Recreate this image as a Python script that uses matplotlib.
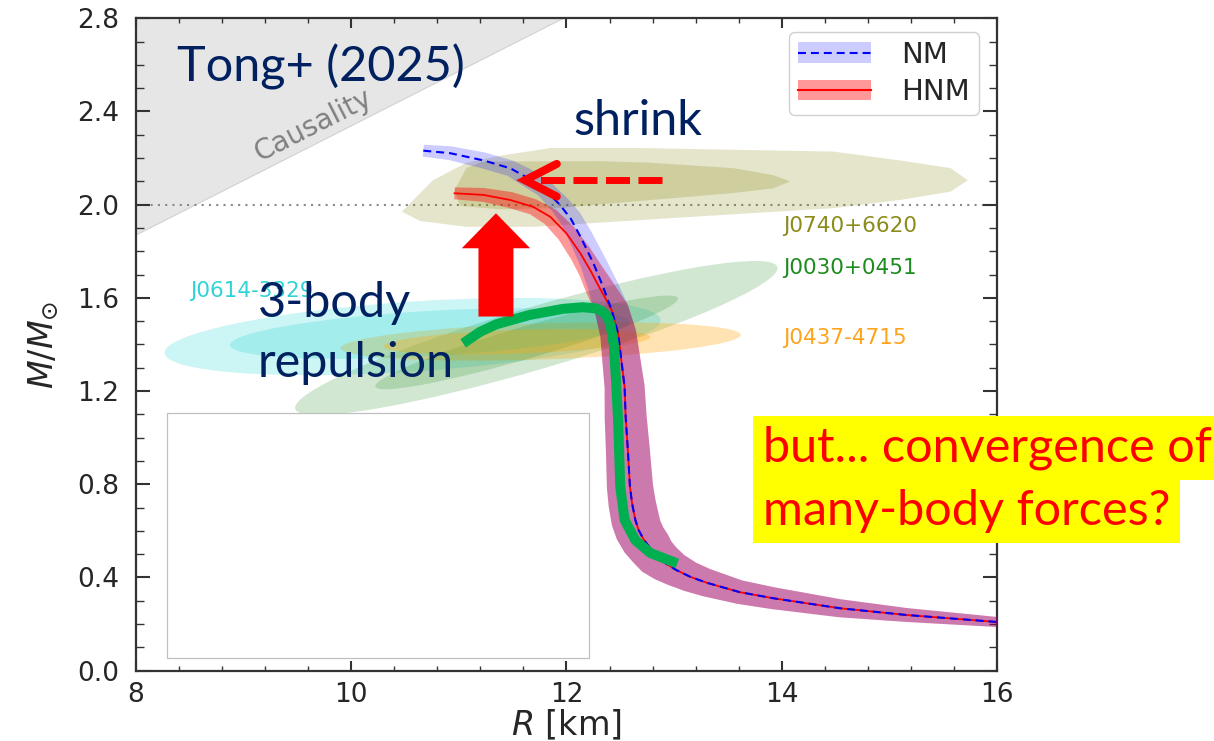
import numpy as np
import matplotlib
matplotlib.use("Agg")
import matplotlib.pyplot as plt
from matplotlib.patches import Ellipse, Rectangle, FancyArrow, Patch
from matplotlib.lines import Line2D
from matplotlib.transforms import Affine2D

plt.rcParams['font.family'] = ['DejaVu Sans']
plt.rcParams['mathtext.fontset'] = 'dejavusans'

# mass-radius curve, nucleon matter (NM)
nm_R = [10.67, 10.92, 11.23, 11.48, 11.62, 11.79, 11.94, 12.04, 12.13, 12.25,
        12.34, 12.42, 12.48, 12.51, 12.54, 12.55, 12.57, 12.59, 12.61, 12.64,
        12.67, 12.72, 12.78, 12.84, 12.92, 13.02, 13.15, 13.30, 13.61, 13.92,
        14.54, 15.16, 16.00]
nm_M = [2.232, 2.221, 2.190, 2.156, 2.120, 2.070, 1.999, 1.940, 1.863, 1.749,
        1.648, 1.548, 1.448, 1.333, 1.219, 1.090, 0.950, 0.790, 0.718, 0.647,
        0.604, 0.561, 0.525, 0.489, 0.461, 0.432, 0.403, 0.378, 0.337, 0.311,
        0.268, 0.239, 0.209]
# half width of the uncertainty band (points, across the curve)
nm_band = [4.3, 5.0, 5.8, 5.8, 6.5, 6.5, 7.2, 7.9, 8.6, 9.4,
           10.8, 12.2, 13.0, 13.7, 14.4, 15.1, 15.8, 16.6, 17.0, 17.3,
           17.0, 16.6, 16.0, 15.1, 13.8, 12.2, 11.0, 10.1, 8.6, 7.9,
           6.5, 5.0, 3.6]

# hyperonic matter (HNM)
hnm_R = [10.96, 11.23, 11.48, 11.69, 11.85, 12.00, 12.13, 12.22, 12.30, 12.36,
         12.42, 12.48, 12.51, 12.54, 12.55, 12.57, 12.59, 12.61, 12.64,
         12.67, 12.72, 12.78, 12.84, 12.92, 13.02, 13.15, 13.30, 13.61, 13.92,
         14.54, 15.16, 16.00]
hnm_M = [2.049, 2.042, 2.020, 1.991, 1.948, 1.877, 1.791, 1.720, 1.650, 1.600,
         1.548, 1.448, 1.333, 1.219, 1.090, 0.950, 0.790, 0.718, 0.647,
         0.604, 0.561, 0.525, 0.489, 0.461, 0.432, 0.403, 0.378, 0.337, 0.311,
         0.268, 0.239, 0.209]
hnm_band = [4.3, 5.0, 5.8, 5.8, 6.5, 7.2, 7.9, 8.6, 10.1, 10.8,
            12.2, 13.0, 13.7, 14.4, 15.1, 15.8, 16.6, 17.0, 17.3,
            17.0, 16.6, 16.0, 15.1, 13.8, 12.2, 11.0, 10.1, 8.6, 7.9,
            6.5, 5.0, 3.6]

# sketched 3-body repulsion curve
tbf_R = [11.04, 11.20, 11.35, 11.66, 11.97, 12.15, 12.27, 12.32, 12.36, 12.39,
         12.41, 12.44, 12.46, 12.48, 12.50, 12.54, 12.64, 12.78, 13.03]
tbf_M = [1.405, 1.455, 1.487, 1.527, 1.553, 1.560, 1.555, 1.545, 1.530, 1.510,
         1.480, 1.400, 1.250, 1.075, 0.790, 0.647, 0.560, 0.505, 0.460]

causal_R = [8.0, 11.97]
causal_M = [1.87, 2.80]

# J0740+6620 contours
j0740_out_R = [10.47, 10.76, 11.07, 11.38, 11.85, 12.71, 14.48, 15.10, 15.57, 15.73,
               15.57, 15.10, 14.48, 13.24, 12.31, 11.69, 11.07, 10.64]
j0740_out_M = [1.970, 2.105, 2.180, 2.210, 2.243, 2.243, 2.228, 2.190, 2.157, 2.105,
               2.056, 2.020, 1.985, 1.950, 1.923, 1.905, 1.905, 1.930]
j0740_in_R = [10.96, 11.07, 11.22, 12.31, 12.78, 13.55, 13.92, 14.08,
              13.92, 13.55, 12.78, 11.94, 11.38, 11.01]
j0740_in_M = [2.063, 2.157, 2.185, 2.187, 2.180, 2.157, 2.127, 2.100,
              2.070, 2.050, 2.020, 1.986, 1.980, 1.995]

# other pulsars: centre R, centre M, length (km), thickness (km), tilt (deg)
psr_names = ['J0614-3329', 'J0030+0451', 'J0437-4715']
psr_outer = [(10.57, 1.434, 4.62, 0.65, 3.8),
             (11.72, 1.428, 4.67, 0.58, 16.4),
             (11.76, 1.413, 3.72, 0.335, 1.9)]
psr_inner = [(10.73, 1.447, 3.72, 0.42, 3.3),
             (11.63, 1.409, 2.93, 0.30, 16.3),
             (11.54, 1.412, 2.48, 0.22, 2.0)]
psr_fill = ['#00ced1', '#228b22', '#ffa500']
psr_alpha = [0.2, 0.2, 0.3]

label_names = ['J0740+6620', 'J0030+0451', 'J0437-4715', 'J0614-3329']
label_R = [14.01, 14.01, 14.01, 8.50]
label_M = [1.91, 1.73, 1.43, 1.63]
label_colors = ['#8b8b1a', '#1e8b1e', '#ffa31a', '#2fd3d6']

fig = plt.figure(figsize=(12.14, 7.41), dpi=100)
ax = fig.add_axes([0.112, 0.0949, 0.7092, 0.8804])
ax.set_xlim(8, 16)
ax.set_ylim(0, 2.8)

# causality region
ax.fill_between(causal_R, causal_M, 2.8, color='#e6e6e6', lw=0, zorder=1)
ax.plot(causal_R, causal_M, color='#d4d4d4', lw=0.8, zorder=1)
ax.text(9.648, 2.339, 'Causality', color='#808080', fontsize=20, rotation=27,
        ha='center', va='center', rotation_mode='anchor', zorder=1)

ax.axhline(2.0, color='#8a8a8a', lw=1.5, dashes=(1, 2.5), zorder=1.5)

# J0740 contours
ax.fill(j0740_out_R, j0740_out_M, color='#808000', alpha=0.2, lw=0, zorder=2)
ax.fill(j0740_in_R, j0740_in_M, color='#808000', alpha=0.22, lw=0, zorder=2)

# ellipses drawn in a frame with equal pixel scale in R and M
bb = ax.get_window_extent()
k = (bb.height / 2.8) / (bb.width / 8.0)
iso = Affine2D().scale(1.0, 1.0 / k) + ax.transData
for shapes in (psr_outer, psr_inner):
    for (r, m, L, T, a), c, al in zip(shapes, psr_fill, psr_alpha):
        ax.add_patch(Ellipse((r, m * k), L, T, angle=a, transform=iso,
                             facecolor=c, alpha=al, lw=0, zorder=2))

for name, r, m, c in zip(label_names, label_R, label_M, label_colors):
    ax.text(r, m, name, color=c, fontsize=15.5, va='center', ha='left', zorder=3)


def band_polygon(R, M, hw_pt):
    pts = ax.transData.transform(np.column_stack([R, M]))
    d = np.gradient(pts, axis=0)
    t = d / np.linalg.norm(d, axis=1)[:, None]
    n = np.column_stack([-t[:, 1], t[:, 0]])
    hw = np.asarray(hw_pt)[:, None] * fig.dpi / 72.0
    poly = np.vstack([pts + n * hw, (pts - n * hw)[::-1]])
    return ax.transData.inverted().transform(poly)


hb = band_polygon(hnm_R, hnm_M, hnm_band)
ax.fill(hb[:, 0], hb[:, 1], color='red', alpha=0.4, lw=0, zorder=3)
nb = band_polygon(nm_R, nm_M, nm_band)
ax.fill(nb[:, 0], nb[:, 1], color='blue', alpha=0.2, lw=0, zorder=3)

ax.plot(hnm_R, hnm_M, color='red', lw=1.3, zorder=4)
ax.plot(nm_R, nm_M, color='blue', lw=1.5, dashes=(3.8, 2.4), zorder=4.1)

ax.plot(tbf_R, tbf_M, color='#00b050', lw=7.2, solid_capstyle='butt',
        solid_joinstyle='round', zorder=6)

# arrows
ax.add_patch(FancyArrow(11.345, 1.52, 0, 0.443, width=0.325, head_width=0.635,
                        head_length=0.15, length_includes_head=True,
                        color='red', lw=0, zorder=7))
ax.plot([12.89, 11.68], [2.105, 2.105], color='red', lw=5, dashes=(3.46, 1.22),
        solid_capstyle='butt', dash_capstyle='butt', zorder=7)
ax.plot([11.91, 11.615, 11.91], [2.175, 2.105, 2.035], color='red', lw=5.8,
        solid_capstyle='round', solid_joinstyle='miter', zorder=7)

# covered inset
ax.add_patch(Rectangle((8.29, 0.055), 3.92, 1.051, facecolor='white',
                       edgecolor='#c0c0c0', lw=0.9, zorder=8))

# legend
h_nm = (Patch(facecolor='blue', alpha=0.2, lw=0),
        Line2D([], [], color='blue', lw=1.5, dashes=(3.8, 2.4)))
h_hnm = (Patch(facecolor='red', alpha=0.4, lw=0),
         Line2D([], [], color='red', lw=1.5))
leg = ax.legend([h_nm, h_hnm], ['NM', 'HNM'], loc='upper right', fontsize=21,
                bbox_to_anchor=(979 / 1214, 1 - 32 / 741),
                bbox_transform=fig.transFigure, borderaxespad=0,
                handlelength=2.5, handletextpad=1.05, labelspacing=0.33,
                borderpad=0.3, fancybox=True, framealpha=1,
                edgecolor='#d0d0d0')
for t in leg.get_texts():
    t.set_color('#262626')
leg.set_zorder(9)

# axes styling
ax.set_xticks([8, 10, 12, 14, 16])
ax.set_xticks(np.arange(8, 16.01, 0.4), minor=True)
ax.set_yticks(np.arange(0, 2.81, 0.4))
ax.set_yticklabels(['%.1f' % v for v in np.arange(0, 2.81, 0.4)])
ax.set_yticks(np.arange(0, 2.81, 0.1), minor=True)
ax.tick_params(which='both', direction='in', top=True, right=True,
               colors='#333333', labelcolor='#262626', labelsize=19)
ax.tick_params(axis='x', which='major', length=7, width=1.5, pad=8)
ax.tick_params(axis='x', which='minor', length=3.6, width=1.0)
ax.tick_params(axis='y', which='major', length=10, width=1.5, pad=12)
ax.tick_params(axis='y', which='minor', length=6, width=1.0)
for s in ax.spines.values():
    s.set_color('#333333')
    s.set_linewidth(1.6)
ax.set_xlabel('$R$ [km]', fontsize=24, color='#262626', labelpad=0)
ax.set_ylabel(r'$M/M_{\odot}$', fontsize=24, color='#262626', labelpad=12)

# slide annotations
navy = '#002060'
fig.text(177 / 1214, 1 - 82 / 741, 'Tong+ (2025)', family=['Lato', 'DejaVu Sans'],
         fontsize=35, color=navy, va='baseline', zorder=10)
fig.text(573 / 1214, 1 - 135 / 741, 'shrink', family=['Lato', 'DejaVu Sans'],
         fontsize=35, color=navy, va='baseline', zorder=10)
fig.text(258 / 1214, 1 - 317 / 741, '3-body', family=['Lato', 'DejaVu Sans'],
         fontsize=35, color=navy, va='baseline', zorder=10)
fig.text(258 / 1214, 1 - 377 / 741, 'repulsion', family=['Lato', 'DejaVu Sans'],
         fontsize=35, color=navy, va='baseline', zorder=10)
for line, yb in (('but... convergence of', 462), ('many-body forces?', 525)):
    fig.text(763 / 1214, 1 - yb / 741, line, family=['Lato', 'DejaVu Sans'],
             fontsize=35, color='red', va='baseline', zorder=10,
             bbox=dict(boxstyle='square,pad=0.2', facecolor='yellow', edgecolor='none'))

fig.savefig('out.png', dpi=100, facecolor='white')
